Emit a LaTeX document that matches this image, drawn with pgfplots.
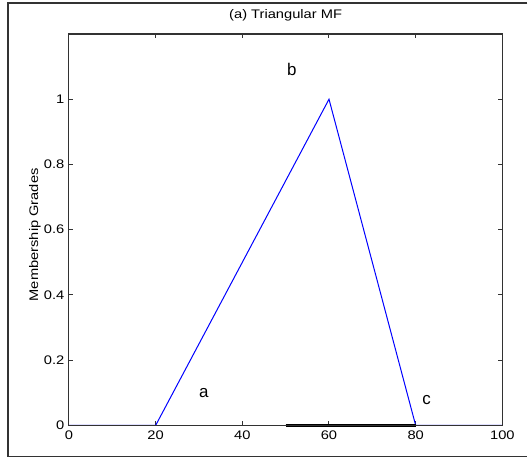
\documentclass[border=0pt]{standalone}
\usepackage{fontspec}
\setmainfont[FakeStretch=1.18]{Liberation Sans}
\newfontfamily\plainsans{Liberation Sans}
\usepackage{pgfplots}
\pgfplotsset{compat=1.18}
\definecolor{mfblue}{RGB}{0,0,255}
\definecolor{axgray}{RGB}{50,50,50}
\begin{document}
\begin{tikzpicture}
\begin{axis}[
  scale only axis,
  width=434bp, height=392bp,
  xmin=0, xmax=100, ymin=0, ymax=1.2,
  xtick={0,20,40,60,80,100},
  ytick={0,0.2,0.4,0.6,0.8,1},
  tick align=inside, tick pos=both,
  major tick length=4bp,
  axis line style={axgray, line width=1.1bp},
  every tick/.style={axgray, line width=1bp},
  tick label style={font=\fontsize{12.5}{14}\selectfont,
                    /pgf/number format/assume math mode=true},
  yticklabel style={/pgf/number format/fixed, xshift=-1bp},
  xticklabel style={yshift=-2bp},
  clip=false,
]
% membership function
\addplot[mfblue, line width=1bp] coordinates {
  (0,0) (20,0) (60,1) (80,0) (100,0)};
% thick baseline segment
\addplot[black, line width=2.5bp] coordinates {(50,0) (80,0)};
\addplot[mfblue, line width=1.2bp] coordinates {(80,0) (100,0)};

% axis box, drawn once more so that all four sides show
\draw[axgray, line width=1.1bp] (rel axis cs:0,0) rectangle (rel axis cs:1,1);

\node[font=\plainsans\fontsize{17}{19}\selectfont] at (axis cs:51.4,1.09) {b};
\node[font=\plainsans\fontsize{17}{19}\selectfont] at (axis cs:31.1,0.10) {a};
\node[font=\plainsans\fontsize{17}{19}\selectfont] at (axis cs:82.5,0.077) {c};

\node[font=\fontsize{12.5}{14}\selectfont] at ([yshift=19bp]rel axis cs:0.5,1) {(a) Triangular MF};
\node[font=\fontsize{12.5}{14}\selectfont, rotate=90] at ([xshift=-34bp]rel axis cs:0,0.487) {Membership Grades};
\end{axis}
% outer figure frame (cropped on the right)
\draw[black!80, line width=1.3bp] (459bp,423bp) -- (-61bp,423bp) -- (-61bp,-31bp) -- (459bp,-31bp);
\path (-69bp,-32bp) rectangle (459bp,426bp);
\end{tikzpicture}
\end{document}
